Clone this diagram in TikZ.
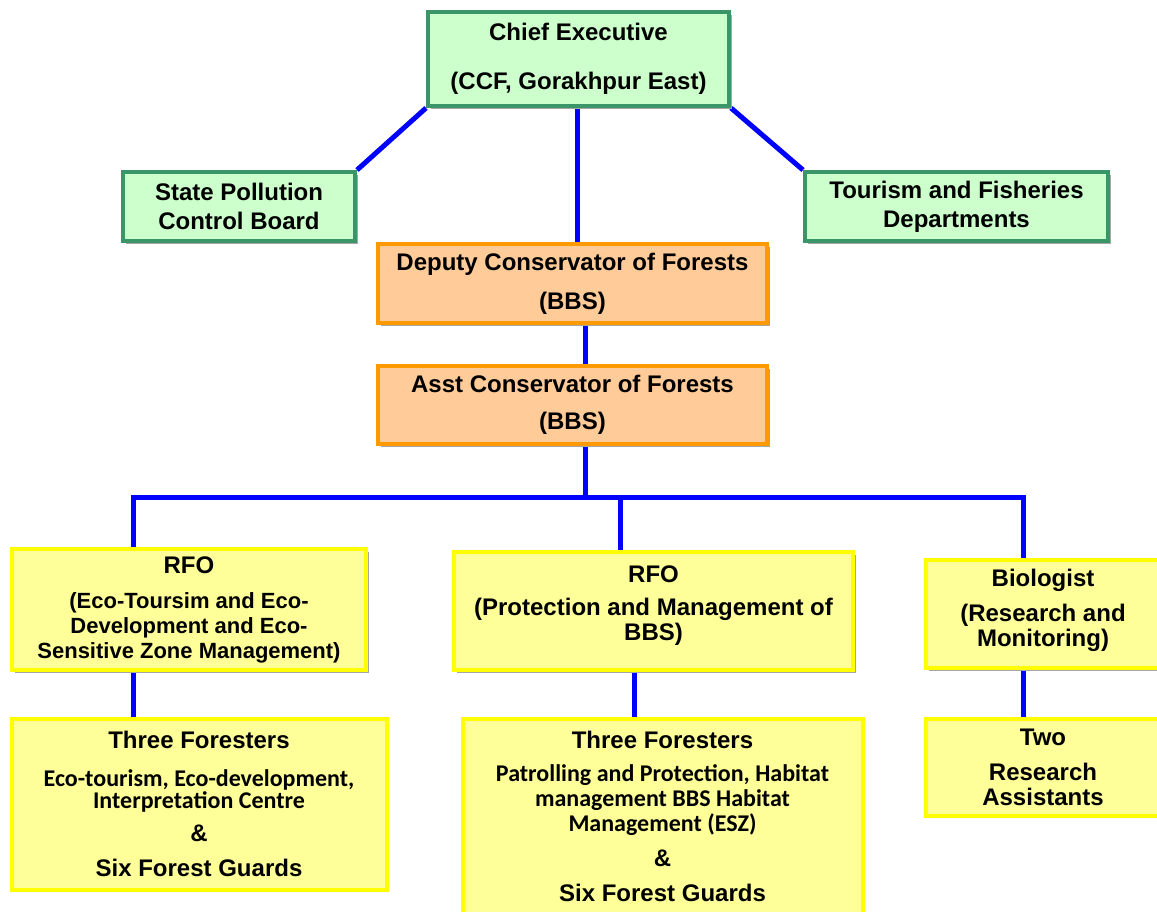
\documentclass[tikz,border=0pt]{standalone}
\usepackage{fontspec}
\setmainfont{Liberation Sans}
\newfontfamily\calib{Carlito}
\usetikzlibrary{shadows,backgrounds}
\definecolor{ceofill}{HTML}{CCFFCC}
\definecolor{ceoline}{HTML}{3A9668}
\definecolor{dcffill}{HTML}{FFCC99}
\definecolor{dcfline}{HTML}{FF9900}
\definecolor{rfofill}{HTML}{FFFF99}
\definecolor{rfoline}{HTML}{FFFF00}
\tikzset{
  box/.style={draw, line width=4pt, align=center, inner sep=0pt,
    font=\bfseries\fontsize{24}{25}\selectfont,
    drop shadow={shadow xshift=2.5pt, shadow yshift=-2.5pt, fill=black!35, opacity=1}},
  ceobox/.style={box, draw=ceoline, fill=ceofill},
  dcfbox/.style={box, draw=dcfline, fill=dcffill},
  rfobox/.style={box, draw=rfoline, fill=rfofill},
  link/.style={draw=blue, line width=5pt}
}
\begin{document}
\begin{tikzpicture}[x=1pt,y=-1pt]
\useasboundingbox (0,0) rectangle (1157,911);

\node[ceobox, minimum width=301, minimum height=94] (ceo) at (578.5,59) {Chief Executive\\[24pt](CCF, Gorakhpur East)};
\node[ceobox, minimum width=232, minimum height=69] (spcb) at (239,206.5) {State Pollution\\[4pt]Control Board};
\node[ceobox, minimum width=303, minimum height=69] (tfd) at (956.5,206.5) {Tourism and Fisheries\\[4pt]Departments};
\node[dcfbox, minimum width=389, minimum height=79] (dcf) at (572.5,283.5) {Deputy Conservator of Forests\\[14pt](BBS)};
\node[dcfbox, minimum width=389, minimum height=78] (acf) at (572.5,405) {Asst Conservator of Forests\\[12pt](BBS)};

\node[rfobox, minimum width=354, minimum height=121] (rfo1) at (189,609.5)
  {RFO\\[10pt]\fontsize{22}{24.5}\selectfont (Eco-Toursim and Eco-\\\fontsize{22}{24.5}\selectfont Development and Eco-\\\fontsize{22}{24.5}\selectfont Sensitive Zone Management)};
\node[rfobox, minimum width=399, minimum height=118] (rfo2) at (653.5,611)
  {RFO\\[8pt](Protection and Management of\\BBS)\\[-9pt]};
\node[rfobox, minimum width=234, minimum height=108] (bio) at (1043,614)
  {Biologist\\[10pt](Research and\\Monitoring)\\[-12pt]};

\node[rfobox, minimum width=375, minimum height=171] (for1) at (199,804)
  {Three Foresters\\[13pt]\calib Eco-tourism, Eco-development,\\[-3pt]\calib Interpretation Centre\\[8pt]\&\\[10pt]Six Forest Guards};
\node[rfobox, minimum width=400, minimum height=195] (for2) at (662.5,816)
  {Three Foresters\\[8pt]\calib Patrolling and Protection, Habitat\\\calib management BBS Habitat\\\calib Management (ESZ)\\[10pt]\&\\[10pt]Six Forest Guards};
\node[rfobox, minimum width=234, minimum height=97] (two) at (1043,767)
  {Two\\[10pt]Research\\Assistants};

\coordinate (c0) at (577,160);
\coordinate (spine) at (585,497);
\coordinate (b1) at (133,497);
\coordinate (b2) at (620,497);
\coordinate (b3) at (1023,497);
\coordinate (c2) at (634,694);

\begin{scope}[on background layer]
\path[link] (ceo.south west) -- (spcb.north east);
\path[link] (ceo.south east) -- (tfd.north west);
\path[link] (ceo.south -| c0) -- (dcf.north -| c0);
\path[link] (dcf.south -| spine) -- (acf.north -| spine);
\path[link] (acf.south -| spine) -- (spine);
\path[link] (rfo1.north -| b1) -- (b1) -- (b3) -- (bio.north -| b3);
\path[link] (b2) -- (rfo2.north -| b2);
\path[link] (rfo1.south -| b1) -- (for1.north -| b1);
\path[link] (rfo2.south -| c2) -- (for2.north -| c2);
\path[link] (bio.south -| b3) -- (two.north -| b3);
\end{scope}
\end{tikzpicture}
\end{document}
